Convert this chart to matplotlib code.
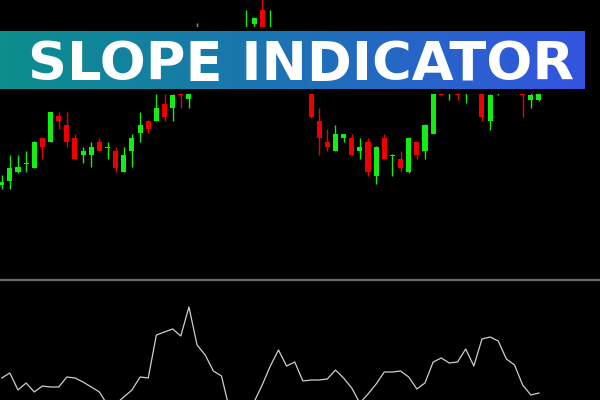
import numpy as np
import matplotlib
matplotlib.use("Agg")
import matplotlib.pyplot as plt
from matplotlib.colors import LinearSegmentedColormap
from matplotlib.patches import Rectangle
from matplotlib.lines import Line2D

#------------- chart data -------------
opens = [95, 99, 108, 116, 112, 142, 138, 164, 155, 142, 125, 125, 138, 132, 129, 108, 129, 147, 159, 159,
         176, 172, 188, 181, 210, 220, 240, 222, 230, 244, 230, 256, 270, 220, 240, 225, 215, 202, 195, 159,
         138, 129, 142, 142, 129, 138, 104, 142, 124.5, 121, 108, 138, 129, 146, 200, 195, 210, 190, 220, 210,
         159, 200, 220, 200, 200, 180, 180]
highs = [105, 125, 125, 129, 139, 143, 168, 168, 168, 146, 133, 138, 142, 138, 133, 133, 146, 168, 160, 186,
         186, 186, 195, 195, 257, 245, 248, 250, 250, 248, 270, 263, 282, 270, 245, 230, 220, 210, 200, 172,
         151, 155, 146, 146, 142, 142, 134, 146, 126, 129, 143, 139, 156, 210, 210, 230, 220, 220, 230, 220,
         186, 230, 230, 220, 210, 187, 200]
lows = [91, 91, 107, 108, 112, 121, 138, 151, 133, 121, 117, 113, 129, 121, 108, 108, 113, 138, 147, 159,
        159, 159, 172, 172, 200, 215, 218, 218, 225, 224, 225, 240, 235, 215, 214, 200, 192, 188, 162, 125,
        129, 129, 138, 125, 121, 104, 96, 121, 104, 108, 107, 121, 121, 146, 184, 180, 180, 177, 190, 159,
        150, 185, 192, 195, 163, 172, 179]
closes = [98, 112, 113, 117, 138, 133, 168, 159, 138, 121, 129, 133, 129, 133, 112, 125, 142, 155, 151, 172,
          163, 185, 185, 186, 235, 240, 225, 242, 245, 230, 250, 262, 245, 240, 220, 205, 195, 190, 163, 142,
          133, 146, 146, 125, 133, 108, 133, 121, 125.5, 112, 142, 125, 155, 205, 185, 220, 185, 210, 195, 163,
          185, 220, 200, 210, 185, 185, 195]

# slope line under the candles
slope = [22, 27, 10, 17, 8, 14, 13, 13, 23, 22, 18, 13, 8, -5, -4, 3, 10, 23, 22, 65,
         68, 71, 64, 93, 55, 45, 29, 24, -10, -15, -10, -2, 15, 34, 50, 34, 38, 19, 20, 20,
         21, 30, 22, 12, -3, 6, 16, 28, 28, 29, 23, 11, 17, 38, 42, 37, 38, 51, 34, 61,
         63, 59, 41, 35, 15, 5, 7]

title_text = "SLOPE INDICATOR"

#------------- styling -------------
BG = "black"
UP = "#12ee12"
DOWN = "#ee0000"
LINE_COLOR = "#cfcfcf"
SEP_COLOR = "#6b6b6b"
XLIM = (-0.21, 73.5)

fig = plt.figure(figsize=(6, 4), dpi=100, facecolor=BG)

#------------- candles -------------
ax = fig.add_axes([0, 1 - 279 / 400, 1, 279 / 400])
ax.set_facecolor(BG)
x = np.arange(len(opens))
o = np.array(opens, dtype=float)
c = np.array(closes, dtype=float)
colors = [UP if cc >= oo else DOWN for oo, cc in zip(o, c)]

ax.vlines(x, lows, highs, colors=colors, linewidth=1)
body_low = np.minimum(o, c)
body_h = np.maximum(np.abs(c - o), 1.0)
ax.bar(x, body_h, bottom=body_low, width=0.62, color=colors, linewidth=0)
ax.set_xlim(*XLIM)
ax.set_ylim(1, 280)
ax.axis("off")

#------------- slope line -------------
ax2 = fig.add_axes([0, 0, 1, 119 / 400])
ax2.set_facecolor(BG)
ax2.plot(x, slope, color=LINE_COLOR, linewidth=0.9)
ax2.set_xlim(*XLIM)
ax2.set_ylim(0, 119)
ax2.axis("off")

# grey separator between the two panes
fig.add_artist(Line2D([0, 1], [1 - 279.5 / 400] * 2, transform=fig.transFigure,
                      color=SEP_COLOR, linewidth=1.6))

#------------- title banner -------------
fig.add_artist(Rectangle((0, 1 - 93.5 / 400), 589 / 600, 67 / 400, transform=fig.transFigure,
                         facecolor=BG, edgecolor="none", zorder=5))
ax_b = fig.add_axes([0, 1 - 89.5 / 400, 585 / 600, 59 / 400], zorder=10)
grad = LinearSegmentedColormap.from_list("banner", ["#0b8f8c", "#1d72b6", "#3454e0"])
ax_b.imshow(np.linspace(0, 1, 256).reshape(1, -1), cmap=grad, aspect="auto", extent=[0, 1, 0, 1])
ax_b.set_xlim(0, 1)
ax_b.set_ylim(0, 1)
ax_b.axis("off")

# baseline sits at about y=80 px
title = ax_b.text(0.514, (89.5 - 80) / 59, title_text, color="white", fontsize=40, fontweight="bold",
                  family="DejaVu Sans", ha="center", va="baseline")
# fit the title to the banner width
fig.canvas.draw()
bb = title.get_window_extent()
title.set_fontsize(40 * 545 / bb.width)

fig.savefig("out.png", dpi=100, facecolor=BG)
